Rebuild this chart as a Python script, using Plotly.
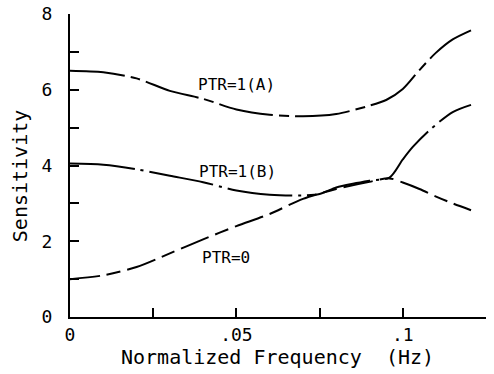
import plotly.graph_objects as go

# ---- data ----
a_x = [0, 0.01, 0.02, 0.03, 0.04, 0.05, 0.06, 0.07, 0.08, 0.09, 0.095, 0.1, 0.105, 0.11, 0.115, 0.1205]
a_y = [6.5, 6.46, 6.3, 5.97, 5.76, 5.48, 5.34, 5.3, 5.36, 5.58, 5.73, 6.02, 6.52, 6.98, 7.33, 7.57]

b_x = [0, 0.01, 0.02, 0.03, 0.04, 0.05, 0.06, 0.07, 0.075, 0.08, 0.085, 0.09, 0.096, 0.1, 0.103, 0.108, 0.115, 0.1205]
b_y = [4.05, 4.02, 3.9, 3.73, 3.56, 3.34, 3.23, 3.21, 3.25, 3.42, 3.52, 3.6, 3.68, 4.16, 4.49, 4.93, 5.41, 5.6]

z_x = [0, 0.01, 0.02, 0.03, 0.04, 0.05, 0.06, 0.07, 0.08, 0.09, 0.096, 0.1, 0.105, 0.11, 0.115, 0.1205]
z_y = [1.0, 1.1, 1.32, 1.68, 2.05, 2.4, 2.72, 3.12, 3.38, 3.57, 3.66, 3.55, 3.38, 3.18, 3.0, 2.82]

series_names = ["PTR=1(A)", "PTR=1(B)", "PTR=0"]

x_tickvals = [0, 0.025, 0.05, 0.075, 0.1, 0.125]
x_ticktext = ["0", "", ".05", "", ".1", ""]
y_tickvals = [0, 1, 2, 3, 4, 5, 6, 7, 8]
y_ticktext = ["0", "", "2", "", "4", "", "6", "", "8"]

x_title = "Normalized Frequency  (Hz)"
y_title = "Sensitivity"

FONT = "DejaVu Sans Mono"

fig = go.Figure()
styles = [
    (a_x, a_y, "55px,6px,10px,6px"),
    (b_x, b_y, "65px,6px,3px,6px"),
    (z_x, z_y, "30px,7px,14px,7px"),
]
for (xs, ys, dash), name in zip(styles, series_names):
    fig.add_trace(go.Scatter(
        x=xs, y=ys, mode="lines", name=name,
        line=dict(color="black", width=2, dash=dash, shape="spline", smoothing=0.8),
        showlegend=False,
    ))

# curve labels
label_pos = [(0.0501, 6.15), (0.0502, 3.85), (0.0469, 1.56)]
for (lx, ly), name in zip(label_pos, series_names):
    fig.add_annotation(x=lx, y=ly, text=name, showarrow=False,
                       font=dict(family=FONT, size=16, color="black"))

# axis titles
fig.add_annotation(xref="paper", yref="paper", x=0.498, y=-0.132, text=x_title,
                   xanchor="center", yanchor="middle",
                   showarrow=False, font=dict(family=FONT, size=20, color="black"))
fig.add_annotation(xref="paper", yref="paper", x=-0.12, y=0.465, text=y_title,
                   xanchor="center", yanchor="middle",
                   textangle=-90, showarrow=False,
                   font=dict(family=FONT, size=20, color="black"))

axis_common = dict(
    showline=True, linecolor="black", linewidth=2, mirror=False,
    ticks="inside", ticklen=9, tickwidth=2, tickcolor="black",
    showgrid=False, zeroline=False,
    ticklabeloverflow="allow",
    tickfont=dict(family=FONT, size=18, color="black"),
)
fig.update_xaxes(range=[0, 0.125], tickvals=x_tickvals, ticktext=x_ticktext,
                 ticklabelstandoff=0, **axis_common)
fig.update_yaxes(range=[0, 8], tickvals=y_tickvals, ticktext=y_ticktext,
                 ticklabelstandoff=12, **axis_common)

fig.update_layout(
    width=494, height=374,
    margin=dict(l=70, r=8, t=14, b=57, autoexpand=False),
    paper_bgcolor="white", plot_bgcolor="white",
)

# remove the default 8px page margin so the figure fills the window exactly
fig.write_html("out.html", config={"displayModeBar": False},
               post_script="document.body.style.margin='0';")
